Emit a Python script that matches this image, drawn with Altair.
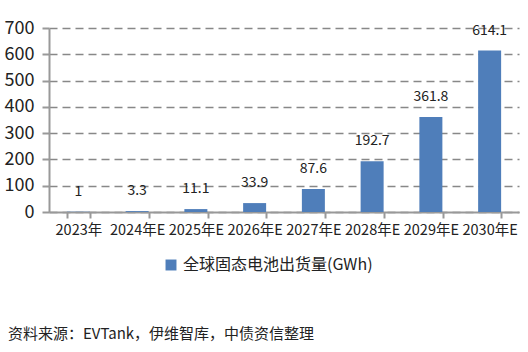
import altair as alt
import pandas as pd

years = ["2023年", "2024年E", "2025年E", "2026年E", "2027年E", "2028年E", "2029年E", "2030年E"]
values = [1, 3.3, 11.1, 33.9, 87.6, 192.7, 361.8, 614.1]
labels = ["1", "3.3", "11.1", "33.9", "87.6", "192.7", "361.8", "614.1"]
series = "全球固态电池出货量(GWh)"
source = "资料来源：EVTank，伊维智库，中债资信整理"

df = pd.DataFrame({"year": years, "value": values, "label": labels, "series": [series] * len(years)})

FONT = "Noto Sans CJK SC"

x = alt.X("year:N", sort=years, title=None,
          scale=alt.Scale(paddingInner=0.6, paddingOuter=0.3),
          axis=alt.Axis(labelAngle=0, labelFontSize=14.5, labelColor="#222", labelFont=FONT,
                        domainColor="#999", domainWidth=2, tickColor="#999", tickWidth=2,
                        tickSize=6, tickBand="extent", labelPadding=5, grid=False,
                        labelOverlap=False, labelLimit=0))
y = alt.Y("value:Q", title=None,
          scale=alt.Scale(domain=[0, 700], nice=False),
          axis=alt.Axis(values=[0, 100, 200, 300, 400, 500, 600, 700], labelFontSize=18,
                        labelColor="#222", labelFont=FONT, domainColor="#999", domainWidth=2,
                        tickColor="#999", tickWidth=2, tickSize=7, labelPadding=8,
                        labelOverlap=False, labelFlush=False, labelBound=False,
                        gridColor="#888", gridDash=[8, 5], gridWidth=1.5))

bars = alt.Chart(df).mark_bar(size=23).encode(
    x=x, y=y,
    color=alt.Color("series:N", scale=alt.Scale(range=["#4F7EBA"]),
                    legend=alt.Legend(title=None, orient="none", legendX=114, legendY=229,
                                      symbolType="square", symbolSize=120, labelFontSize=16,
                                      labelFont=FONT, labelColor="#222", symbolStrokeWidth=0,
                                      labelLimit=0))
)

text = alt.Chart(df).mark_text(baseline="alphabetic", dy=-16, fontSize=14, font=FONT, color="#222").encode(
    x=x, y=y, text="label:N"
)

src = alt.Chart(pd.DataFrame({"t": [source]})).mark_text(
    align="left", baseline="middle", fontSize=15, font=FONT, color="#222"
).encode(x=alt.value(-41), y=alt.value(306), text="t:N")

chart = alt.layer(bars, text, src).properties(
    width=470, height=184,
    padding={"left": 49, "top": 28, "right": 9, "bottom": 140},
    autosize=alt.AutoSizeParams(type="none"),
    background="white"
).configure_view(stroke=None)

chart.save("out.html", embed_options={"renderer": "svg", "actions": False})
